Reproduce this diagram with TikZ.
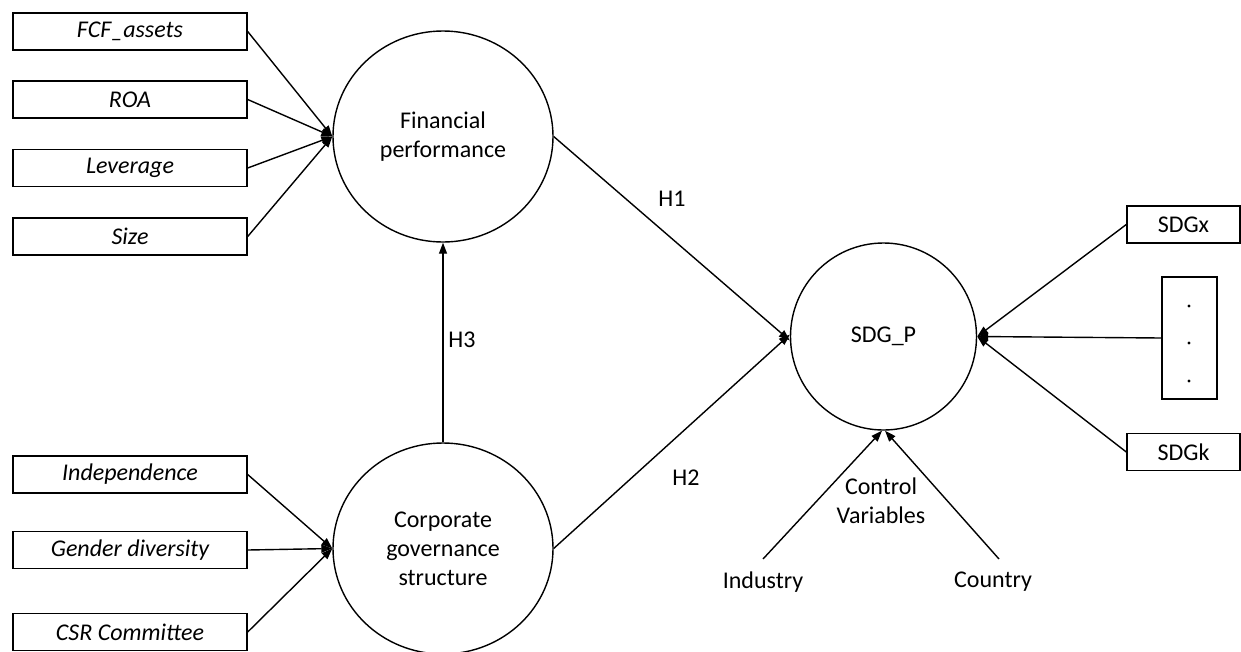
\documentclass[tikz,border=0pt]{standalone}
\usepackage{fontspec}
\setmainfont{Carlito}
\usetikzlibrary{arrows.meta,shapes.geometric}

\tikzset{
  every picture/.style={line width=1.4pt},
  indicator/.style={draw, rectangle, minimum width=234pt, minimum height=37pt,
    inner sep=0pt, font=\fontsize{24}{29}\selectfont\itshape},
  sdgbox/.style={draw, rectangle, minimum width=113pt, minimum height=37pt,
    inner sep=0pt, font=\fontsize{24}{29}\selectfont},
  construct/.style={draw, ellipse, minimum width=220pt, minimum height=211pt,
    inner sep=0pt, align=center, font=\fontsize{24}{29}\selectfont},
  plain/.style={inner sep=0pt, align=center, font=\fontsize{24}{29}\selectfont},
  link/.style={-{Triangle[length=11pt,width=8pt]}},
}

\begin{document}
\begin{tikzpicture}[x=1pt,y=-1pt]
  \useasboundingbox (0,0) rectangle (1241,651);

  % latent constructs
  \node[construct] (fp) at (443,136.5) {Financial\\performance};
  \node[construct] (cg) at (443,548.5) {Corporate\\governance\\structure};
  \node[construct, minimum width=186pt, minimum height=187pt] (sdg) at (883.5,336.5) {SDG\_P};

  % financial indicators
  \node[indicator] (fcf) at (130,31.5) {FCF\_assets};
  \node[indicator] (roa) at (130,99.5) {ROA};
  \node[indicator] (lev) at (130,168) {Leverage};
  \node[indicator] (size) at (130,236.5) {Size};

  % governance indicators
  \node[indicator] (ind) at (130,474.5) {Independence};
  \node[indicator] (gen) at (130,550) {Gender diversity};
  \node[indicator] (csr) at (130,632) {CSR Committee};

  % SDG indicators
  \node[sdgbox] (sdgx) at (1183.5,224.5) {SDGx};
  \node[draw, rectangle, minimum width=55pt, minimum height=122pt, inner sep=0pt] (dots) at (1189.5,338) {};
  \fill (1189,306) circle (1.6pt) (1189,343) circle (1.6pt) (1189,381) circle (1.6pt);
  \node[sdgbox] (sdgk) at (1183.5,452) {SDGk};

  % control variables
  \node[plain] (industry) at (763,582) {Industry};
  \node[plain] (country) at (993,582) {Country};
  \node[plain] (ctrl) at (881,500.5) {Control\\Variables};
  \coordinate (industryTop) at (763,559);
  \coordinate (countryTop) at (999,559);

  % hypothesis labels
  \node[plain] (h1) at (672,199) {H1};
  \node[plain] (h2) at (686,478) {H2};
  \node[plain] (h3) at (462,340) {H3};

  % formative links
  \foreach \n in {fcf,roa,lev,size} \draw[link] (\n.east) -- (fp.west);
  \foreach \n in {ind,gen,csr} \draw[link] (\n.east) -- (cg.west);
  \draw[link] (sdgx.west) -- (sdg.east);
  \draw[link] (dots.west) -- (sdg.east);
  \draw[link] (sdgk.west) -- (sdg.east);

  % hypotheses
  \draw[link] (fp.east) -- ([yshift=-4pt]sdg.west);
  \draw[link] (cg.east) -- ([yshift=2pt]sdg.west);
  \draw[link] (cg.north) -- (fp.south);

  % controls
  \draw[link] (industryTop) -- ([xshift=-1.5pt]sdg.south);
  \draw[link] (countryTop) -- ([xshift=1.5pt]sdg.south);
\end{tikzpicture}
\end{document}
